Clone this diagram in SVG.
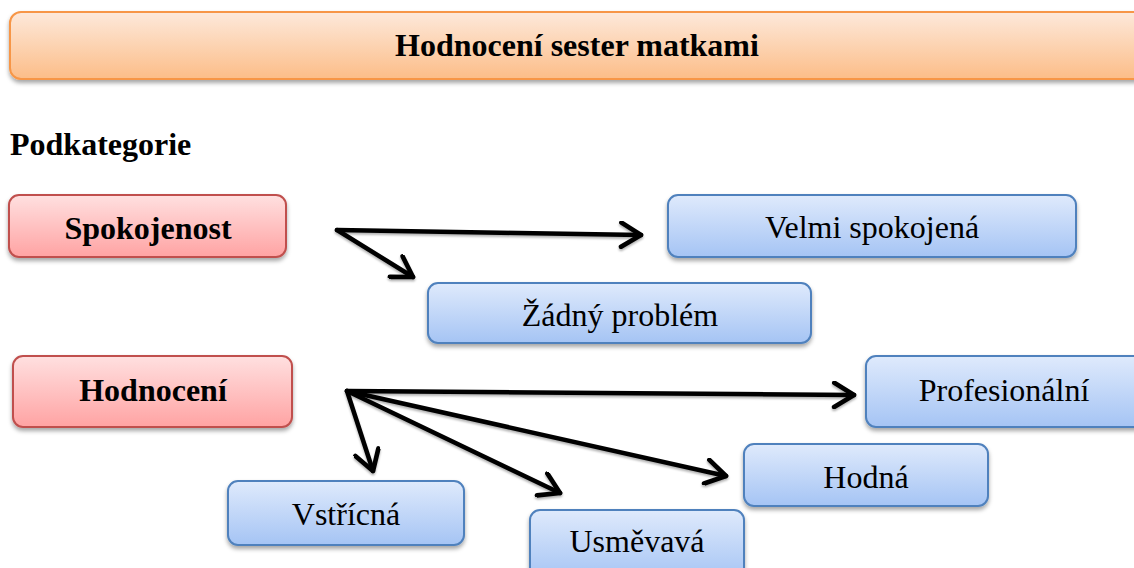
<svg xmlns="http://www.w3.org/2000/svg" width="1134" height="568" viewBox="0 0 1134 568">
  <defs>
    <linearGradient id="gOrange" x1="0" y1="0" x2="0" y2="1">
      <stop offset="0" stop-color="#fde9db"/>
      <stop offset="1" stop-color="#fcbd88"/>
    </linearGradient>
    <linearGradient id="gRed" x1="0" y1="0" x2="0" y2="1">
      <stop offset="0" stop-color="#ffe0e0"/>
      <stop offset="1" stop-color="#ffa3a3"/>
    </linearGradient>
    <linearGradient id="gBlue" x1="0" y1="0" x2="0" y2="1">
      <stop offset="0" stop-color="#dfeafc"/>
      <stop offset="1" stop-color="#a5c4f4"/>
    </linearGradient>
    <filter id="shadow" x="-10%" y="-20%" width="120%" height="150%">
      <feDropShadow dx="0" dy="3" stdDeviation="2" flood-color="#000" flood-opacity="0.35"/>
    </filter>
    <filter id="lineShadow" x="-10%" y="-10%" width="120%" height="130%">
      <feDropShadow dx="0" dy="2" stdDeviation="1.2" flood-color="#000" flood-opacity="0.3"/>
    </filter>
    <marker id="chevron" viewBox="0 0 12 12" refX="10" refY="6" markerWidth="6.2" markerHeight="6.2" markerUnits="strokeWidth" orient="auto">
      <path d="M1.5,0.8 L10,6 L1.5,11.2" fill="none" stroke="#000" stroke-width="2" stroke-linecap="round" stroke-linejoin="round"/>
    </marker>
  </defs>
  <style>
    .hdr { fill: url(#gOrange); stroke: #f79646; stroke-width: 2; filter: url(#shadow); }
    .cat { fill: url(#gRed); stroke: #c0504d; stroke-width: 2; filter: url(#shadow); }
    .sub { fill: url(#gBlue); stroke: #4f81bd; stroke-width: 2; filter: url(#shadow); }
    .t { font-family: "Liberation Serif", "Times New Roman", serif; font-size: 32px; fill: #000; }
    .b { font-weight: bold; }
    .c { text-anchor: middle; }
    .arr { fill: none; stroke: #000; stroke-width: 4.5; stroke-linecap: round; marker-end: url(#chevron); }
  </style>

  <!-- title bar -->
  <g id="title">
    <rect class="hdr" x="10" y="12" width="1140" height="67" rx="11"/>
    <text class="t b c" x="577" y="56">Hodnocení sester matkami</text>
  </g>

  <text id="podkategorie" class="t b" x="10" y="155">Podkategorie</text>

  <!-- categories -->
  <g id="spokojenost">
    <rect class="cat" x="9" y="195" width="277" height="62" rx="10"/>
    <text class="t b c" x="148" y="239">Spokojenost</text>
  </g>
  <g id="hodnoceni">
    <rect class="cat" x="13" y="356" width="279" height="71" rx="10"/>
    <text class="t b c" x="153" y="401">Hodnocení</text>
  </g>

  <!-- subcategories -->
  <g id="velmi-spokojena">
    <rect class="sub" x="668" y="195" width="408" height="62" rx="10"/>
    <text class="t c" x="872" y="238">Velmi spokojená</text>
  </g>
  <g id="zadny-problem">
    <rect class="sub" x="428" y="283" width="383" height="60" rx="10"/>
    <text class="t c" x="620" y="326">Žádný problém</text>
  </g>
  <g id="profesionalni">
    <rect class="sub" x="866" y="356" width="290" height="71" rx="10"/>
    <text class="t c" x="1004" y="401">Profesionální</text>
  </g>
  <g id="hodna">
    <rect class="sub" x="744" y="444" width="244" height="62" rx="10"/>
    <text class="t c" x="866" y="488">Hodná</text>
  </g>
  <g id="vstricna">
    <rect class="sub" x="228" y="481" width="236" height="64" rx="10"/>
    <text class="t c" x="346" y="525">Vstřícná</text>
  </g>
  <g id="usmevava">
    <rect class="sub" x="530" y="510" width="214" height="70" rx="10"/>
    <text class="t c" x="637" y="552">Usměvavá</text>
  </g>

  <!-- connectors -->
  <g id="connectors" filter="url(#lineShadow)">
    <path class="arr" d="M337,230 L641,235"/>
    <path class="arr" d="M337,230 L413,277"/>
    <path class="arr" d="M347,391 L854,395"/>
    <path class="arr" d="M347,391 L373,471"/>
    <path class="arr" d="M347,391 L560,493"/>
    <path class="arr" d="M347,391 L726,476"/>
  </g>
</svg>
